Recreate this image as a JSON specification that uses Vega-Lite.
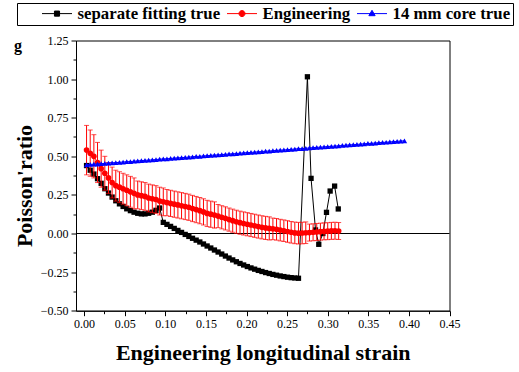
{
  "$schema": "https://vega.github.io/schema/vega-lite/v6.json",
  "width": 373.5,
  "height": 270.2,
  "autosize": {"type": "none"},
  "padding": {"left": 76, "top": 40.5, "right": 69.5, "bottom": 61.3},
  "config": {
    "view": {"stroke": "#000000", "strokeWidth": 1},
    "font": "Liberation Serif",
    "axis": {"grid": false, "domainColor": "#000000", "tickColor": "#000000", "labelColor": "#000000", "titleColor": "#000000", "labelFont": "Liberation Serif", "titleFont": "Liberation Serif", "labelFontSize": 12, "titleFontSize": 22, "titleFontWeight": "bold", "domainWidth": 1, "tickWidth": 1}
  },
  "datasets": {
    "black": [
      {"x":0.003,"y":0.44},{"x":0.0075,"y":0.41},{"x":0.012,"y":0.385},{"x":0.0165,"y":0.355},{"x":0.021,"y":0.325},{"x":0.0255,"y":0.29},{"x":0.03,"y":0.262},{"x":0.0345,"y":0.236},{"x":0.039,"y":0.212},{"x":0.0435,"y":0.192},{"x":0.048,"y":0.175},{"x":0.0525,"y":0.16},{"x":0.057,"y":0.148},{"x":0.0615,"y":0.138},{"x":0.066,"y":0.131},{"x":0.0705,"y":0.127},{"x":0.075,"y":0.127},{"x":0.0795,"y":0.131},{"x":0.084,"y":0.138},{"x":0.0885,"y":0.15},{"x":0.093,"y":0.165},
      {"x":0.0975,"y":0.072},{"x":0.102,"y":0.059},{"x":0.1065,"y":0.046},{"x":0.111,"y":0.033},{"x":0.1155,"y":0.02},{"x":0.12,"y":0.007},{"x":0.1245,"y":-0.006},{"x":0.129,"y":-0.019},{"x":0.1335,"y":-0.031},{"x":0.138,"y":-0.043},{"x":0.1425,"y":-0.055},{"x":0.147,"y":-0.068},{"x":0.1515,"y":-0.081},{"x":0.156,"y":-0.094},{"x":0.1605,"y":-0.107},{"x":0.165,"y":-0.12},{"x":0.1695,"y":-0.133},{"x":0.174,"y":-0.146},{"x":0.1785,"y":-0.159},{"x":0.183,"y":-0.171},{"x":0.1875,"y":-0.183},{"x":0.192,"y":-0.194},{"x":0.1965,"y":-0.204},{"x":0.201,"y":-0.214},{"x":0.2055,"y":-0.223},{"x":0.21,"y":-0.231},{"x":0.2145,"y":-0.239},{"x":0.219,"y":-0.246},{"x":0.2235,"y":-0.253},{"x":0.228,"y":-0.259},{"x":0.2325,"y":-0.265},{"x":0.237,"y":-0.27},{"x":0.2415,"y":-0.275},{"x":0.246,"y":-0.279},{"x":0.2505,"y":-0.283},{"x":0.255,"y":-0.286},{"x":0.2595,"y":-0.288},{"x":0.264,"y":-0.29},
      {"x":0.275,"y":1.015},{"x":0.2795,"y":0.357},{"x":0.285,"y":0.023},{"x":0.289,"y":-0.07},{"x":0.294,"y":0.0},{"x":0.2985,"y":0.137},{"x":0.303,"y":0.275},{"x":0.3085,"y":0.307},{"x":0.313,"y":0.159}
    ],
    "red": [
      {"x":0.003,"y":0.54,"e":0.16},{"x":0.0075,"y":0.52,"e":0.15},{"x":0.012,"y":0.5,"e":0.14},{"x":0.0165,"y":0.46,"e":0.13},{"x":0.021,"y":0.42,"e":0.12},{"x":0.0255,"y":0.39,"e":0.11},{"x":0.03,"y":0.36,"e":0.1},{"x":0.0345,"y":0.33,"e":0.1},{"x":0.039,"y":0.31,"e":0.1},{"x":0.0435,"y":0.3,"e":0.1},{"x":0.048,"y":0.29,"e":0.1},{"x":0.0525,"y":0.28,"e":0.1},{"x":0.057,"y":0.27,"e":0.1},{"x":0.0615,"y":0.26,"e":0.1},{"x":0.066,"y":0.25,"e":0.09},{"x":0.0705,"y":0.245,"e":0.09},{"x":0.075,"y":0.24,"e":0.09},{"x":0.0795,"y":0.23,"e":0.09},{"x":0.084,"y":0.225,"e":0.09},{"x":0.0885,"y":0.22,"e":0.09},{"x":0.093,"y":0.21,"e":0.09},{"x":0.0975,"y":0.205,"e":0.09},
      {"x":0.102,"y":0.2,"e":0.085},{"x":0.1065,"y":0.195,"e":0.085},{"x":0.111,"y":0.19,"e":0.085},{"x":0.1155,"y":0.185,"e":0.085},{"x":0.12,"y":0.18,"e":0.085},{"x":0.1245,"y":0.175,"e":0.085},{"x":0.129,"y":0.17,"e":0.085},{"x":0.1335,"y":0.162,"e":0.085},{"x":0.138,"y":0.155,"e":0.085},{"x":0.1425,"y":0.148,"e":0.085},{"x":0.147,"y":0.14,"e":0.085},{"x":0.1515,"y":0.13,"e":0.085},{"x":0.156,"y":0.125,"e":0.085},{"x":0.1605,"y":0.12,"e":0.085},
      {"x":0.165,"y":0.113,"e":0.075},{"x":0.1695,"y":0.105,"e":0.075},{"x":0.174,"y":0.098,"e":0.075},{"x":0.1785,"y":0.09,"e":0.075},{"x":0.183,"y":0.083,"e":0.075},{"x":0.1875,"y":0.076,"e":0.075},{"x":0.192,"y":0.07,"e":0.075},{"x":0.1965,"y":0.065,"e":0.075},{"x":0.201,"y":0.06,"e":0.075},{"x":0.2055,"y":0.055,"e":0.075},{"x":0.21,"y":0.05,"e":0.075},{"x":0.2145,"y":0.045,"e":0.075},{"x":0.219,"y":0.04,"e":0.075},{"x":0.2235,"y":0.036,"e":0.075},{"x":0.228,"y":0.033,"e":0.075},
      {"x":0.2325,"y":0.03,"e":0.07},{"x":0.237,"y":0.027,"e":0.07},{"x":0.2415,"y":0.022,"e":0.07},{"x":0.246,"y":0.018,"e":0.07},{"x":0.2505,"y":0.013,"e":0.07},{"x":0.255,"y":0.008,"e":0.07},{"x":0.2595,"y":0.004,"e":0.07},{"x":0.264,"y":0.002,"e":0.07},{"x":0.2685,"y":0.003,"e":0.07},{"x":0.273,"y":0.005,"e":0.07},
      {"x":0.2775,"y":0.006,"e":0.055},{"x":0.282,"y":0.008,"e":0.055},{"x":0.2865,"y":0.01,"e":0.055},{"x":0.291,"y":0.012,"e":0.055},{"x":0.2955,"y":0.014,"e":0.055},{"x":0.3,"y":0.015,"e":0.055},{"x":0.3045,"y":0.017,"e":0.055},{"x":0.309,"y":0.018,"e":0.055},{"x":0.3135,"y":0.016,"e":0.055}
    ],
    "blue": [
      {"x":0.003,"y":0.445},{"x":0.0075,"y":0.447},{"x":0.012,"y":0.449},{"x":0.0165,"y":0.45},{"x":0.021,"y":0.452},{"x":0.0255,"y":0.454},{"x":0.03,"y":0.456},{"x":0.0345,"y":0.458},{"x":0.039,"y":0.459},{"x":0.0435,"y":0.461},{"x":0.048,"y":0.463},{"x":0.0525,"y":0.465},{"x":0.057,"y":0.466},{"x":0.0615,"y":0.468},{"x":0.066,"y":0.47},{"x":0.0705,"y":0.472},{"x":0.075,"y":0.474},{"x":0.0795,"y":0.475},{"x":0.084,"y":0.477},{"x":0.0885,"y":0.479},{"x":0.093,"y":0.481},{"x":0.0975,"y":0.483},{"x":0.102,"y":0.484},{"x":0.1065,"y":0.486},{"x":0.111,"y":0.488},{"x":0.1155,"y":0.49},{"x":0.12,"y":0.491},{"x":0.1245,"y":0.493},{"x":0.129,"y":0.495},{"x":0.1335,"y":0.497},{"x":0.138,"y":0.499},{"x":0.1425,"y":0.5},{"x":0.147,"y":0.502},{"x":0.1515,"y":0.504},{"x":0.156,"y":0.506},{"x":0.1605,"y":0.508},{"x":0.165,"y":0.509},{"x":0.1695,"y":0.511},{"x":0.174,"y":0.513},{"x":0.1785,"y":0.515},{"x":0.183,"y":0.516},{"x":0.1875,"y":0.518},{"x":0.192,"y":0.52},{"x":0.1965,"y":0.522},{"x":0.201,"y":0.524},{"x":0.2055,"y":0.525},{"x":0.21,"y":0.527},{"x":0.2145,"y":0.529},{"x":0.219,"y":0.531},{"x":0.2235,"y":0.533},{"x":0.228,"y":0.534},{"x":0.2325,"y":0.536},{"x":0.237,"y":0.538},{"x":0.2415,"y":0.54},{"x":0.246,"y":0.541},{"x":0.2505,"y":0.543},{"x":0.255,"y":0.545},{"x":0.2595,"y":0.547},{"x":0.264,"y":0.549},{"x":0.2685,"y":0.55},{"x":0.273,"y":0.552},{"x":0.2775,"y":0.554},{"x":0.282,"y":0.556},{"x":0.2865,"y":0.558},{"x":0.291,"y":0.559},{"x":0.2955,"y":0.561},{"x":0.3,"y":0.563},{"x":0.3045,"y":0.565},{"x":0.309,"y":0.566},{"x":0.3135,"y":0.568},{"x":0.318,"y":0.57},{"x":0.3225,"y":0.572},{"x":0.327,"y":0.574},{"x":0.3315,"y":0.575},{"x":0.336,"y":0.577},{"x":0.3405,"y":0.579},{"x":0.345,"y":0.581},{"x":0.3495,"y":0.583},{"x":0.354,"y":0.584},{"x":0.3585,"y":0.586},{"x":0.363,"y":0.588},{"x":0.3675,"y":0.59},{"x":0.372,"y":0.591},{"x":0.3765,"y":0.593},{"x":0.381,"y":0.595},{"x":0.3855,"y":0.597},{"x":0.39,"y":0.599},{"x":0.3945,"y":0.6}
    ]
  },
  "encoding": {
    "x": {"field": "x", "type": "quantitative",
      "scale": {"domain": [-0.01, 0.45], "nice": false, "zero": false},
      "axis": {"title": "Engineering longitudinal strain", "titleY": 49, "titleBaseline": "alphabetic",
        "values": [0,0.025,0.05,0.075,0.1,0.125,0.15,0.175,0.2,0.225,0.25,0.275,0.3,0.325,0.35,0.375,0.4,0.425,0.45],
        "labelExpr": "abs(round(datum.value*40))%2==1 ? '' : format(datum.value, '.2f')",
        "tickSize": {"condition": {"test": "abs(round(datum.value*40))%2==1", "value": 3}, "value": 5},
        "labelPadding": 3, "labelFlush": false}},
    "y": {"field": "y", "type": "quantitative",
      "scale": {"domain": [-0.5, 1.25], "nice": false, "zero": false},
      "axis": {"title": "Poisson'ratio", "titleX": -45, "titleY": 145, "titleBaseline": "alphabetic", "titleAngle": -90,
        "values": [-0.5,-0.375,-0.25,-0.125,0,0.125,0.25,0.375,0.5,0.625,0.75,0.875,1,1.125,1.25],
        "labelExpr": "abs(round(datum.value*8))%2==1 ? '' : format(datum.value, '.2f')",
        "tickSize": {"condition": {"test": "abs(round(datum.value*8))%2==1", "value": 3}, "value": 5},
        "labelPadding": 3, "labelFlush": false}}
  },
  "layer": [
    {"mark": {"type": "rule", "color": "#000000", "strokeWidth": 1}, "data": {"values": [{"z": 0}]},
      "encoding": {"y": {"field": "z", "type": "quantitative"}, "x": null}},
    {"data": {"name": "black"}, "mark": {"type": "line", "strokeWidth": 1},
      "encoding": {"color": {"datum": "separate fitting true", "type": "nominal",
        "scale": {"domain": ["separate fitting true", "Engineering", "14 mm core true"], "range": ["#000000", "#ff0000", "#0000ff"]},
        "legend": {"title": " ", "titleOrient": "left", "titlePadding": 22, "titleFontSize": 15,
          "orient": "none", "legendX": -59, "legendY": -37.5, "direction": "horizontal",
          "strokeColor": "#000000", "padding": 2.5, "clipHeight": 16,
          "labelFont": "Liberation Serif", "labelFontWeight": "bold", "labelFontSize": 16.8, "labelColor": "#000000",
          "symbolSize": 900, "labelOffset": 5, "columnPadding": 6, "labelLimit": 300,
          "encode": {"symbols": {"update": {
            "shape": {"signal": "datum.value == 'Engineering' ? 'M-1,0H1M0.2,0A0.2,0.2,0,1,1,-0.2,0A0.2,0.2,0,1,1,0.2,0Z' : (datum.value == '14 mm core true' ? 'M-1,0H1M0,-0.22L0.21,0.14H-0.21Z' : 'M-1,0H1M-0.17,-0.17H0.17V0.17H-0.17Z')"},
            "fill": {"scale": "color", "field": "value"},
            "stroke": {"scale": "color", "field": "value"},
            "strokeWidth": {"value": 1},
            "size": {"value": 900},
            "opacity": {"value": 1}}}}}}}},
    {"data": {"name": "black"}, "mark": {"type": "point", "shape": "square", "filled": true, "size": 28, "opacity": 1},
      "encoding": {"color": {"datum": "separate fitting true", "type": "nominal"}}},
    {"data": {"name": "red"}, "mark": {"type": "errorbar", "color": "#ff0000", "thickness": 1, "ticks": {"size": 5, "color": "#ff0000"}},
      "encoding": {"yError": {"field": "e"}}},
    {"data": {"name": "red"}, "mark": {"type": "line", "strokeWidth": 1},
      "encoding": {"color": {"datum": "Engineering", "type": "nominal"}}},
    {"data": {"name": "red"}, "mark": {"type": "point", "shape": "circle", "filled": true, "size": 32, "opacity": 1},
      "encoding": {"color": {"datum": "Engineering", "type": "nominal"}}},
    {"data": {"name": "blue"}, "mark": {"type": "line", "strokeWidth": 1},
      "encoding": {"color": {"datum": "14 mm core true", "type": "nominal"}}},
    {"data": {"name": "blue"}, "mark": {"type": "point", "shape": "triangle-up", "filled": true, "size": 30, "opacity": 1},
      "encoding": {"color": {"datum": "14 mm core true", "type": "nominal"}}},
    {"data": {"values": [{"t": "g", "gx": -0.01, "gy": 1.25}]}, "mark": {"type": "text", "font": "Liberation Serif", "fontWeight": "bold", "fontSize": 16, "dx": -58, "dy": 5, "color": "#000000"},
      "encoding": {"text": {"field": "t", "type": "nominal"}, "x": {"field": "gx", "type": "quantitative"}, "y": {"field": "gy", "type": "quantitative"}}}
  ]
}
